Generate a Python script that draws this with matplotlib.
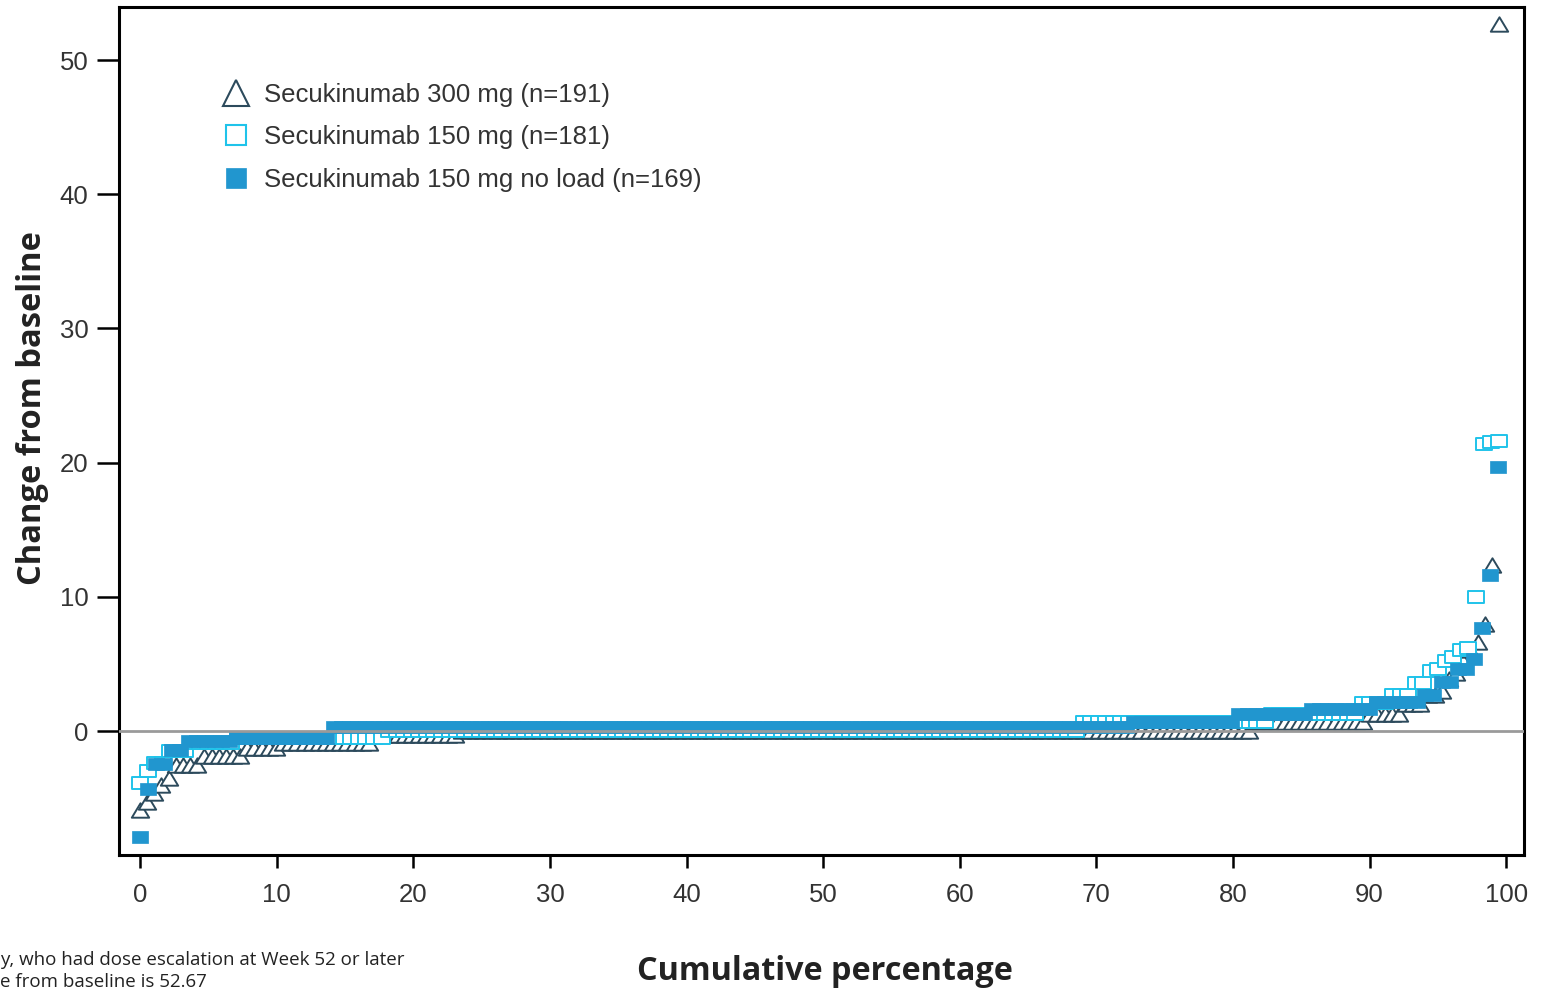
import numpy as np
import matplotlib.pyplot as plt
from matplotlib.path import Path
from matplotlib.lines import Line2D

# change from baseline, sorted, stored as (value, number of patients) runs
tri_vals = [-5.9, -5.3, -4.6, -4.0, -3.5, -2.5, -1.9, -1.3, -0.9, -0.3, 0.0, 0.7,
            1.3, 2.0, 2.7, 3.0, 3.9, 4.3, 5.2, 6.0, 6.6, 8.0, 12.4, 52.67]
tri_counts = [1, 1, 1, 1, 1, 4, 6, 5, 13, 12, 111, 16,
              5, 3, 2, 1, 1, 1, 1, 1, 1, 1, 1, 1]

sq_vals = [-3.9, -3.0, -2.4, -1.5, -0.9, -0.5, 0.0, 0.7, 1.3, 2.1, 2.7,
           3.6, 4.5, 4.6, 5.2, 5.5, 6.0, 6.2, 10.0, 21.4, 21.5, 21.6]
sq_counts = [1, 1, 2, 3, 6, 20, 92, 25, 12, 4, 3,
             2, 1, 1, 1, 1, 1, 1, 1, 1, 1, 1]

nl_vals = [-7.9, -4.3, -2.45, -1.4, -0.75, -0.5, 0.33, 0.67, 1.27, 1.64, 2.16,
           2.65, 3.65, 4.6, 5.4, 7.7, 11.6, 19.7]
nl_counts = [1, 1, 2, 2, 6, 12, 99, 13, 9, 8, 6,
             2, 2, 2, 1, 1, 1, 1]

labels = ['Secukinumab 300 mg (n=191)', 'Secukinumab 150 mg (n=181)',
          'Secukinumab 150 mg no load (n=169)']
xticks = [0, 10, 20, 30, 40, 50, 60, 70, 80, 90, 100]
yticks = [0, 10, 20, 30, 40, 50]

c_tri = '#2c4a5c'
c_sq = '#1fc3ea'
c_nl = '#2196cf'


def cum(vals, counts):
    y = np.repeat(vals, counts)
    x = np.arange(len(y)) / len(y) * 100
    return x, y


# scanned chart is stretched sideways, so markers are wider than tall
sq_mark = Path([(-1, -0.73), (1, -0.73), (1, 0.73), (-1, 0.73), (-1, -0.73)], closed=True)
tri_mark = Path([(0, 0.83), (-1, -0.83), (1, -0.83), (0, 0.83)], closed=True)

fig = plt.figure(figsize=(15.52, 9.9), dpi=100)
ax = fig.add_axes([119 / 1552, 1 - 855 / 990, 1405 / 1552, 848 / 990])

x, y = cum(tri_vals, tri_counts)
ax.plot(x, y, ls='none', marker=tri_mark, ms=12.5, mfc='white', mec=c_tri, mew=1.4, zorder=2)
x, y = cum(sq_vals, sq_counts)
ax.plot(x, y, ls='none', marker=sq_mark, ms=12, mfc='white', mec=c_sq, mew=1.4, zorder=3)
x, y = cum(nl_vals, nl_counts)
ax.plot(x, y, ls='none', marker=sq_mark, ms=11, mfc=c_nl, mec=c_nl, mew=0.5, zorder=4)

ax.axhline(0, color='#9a9a9a', lw=2, zorder=5)

ax.set_xlim(-1.54, 101.3)
ax.set_ylim(-9.24, 53.95)
ax.set_xticks(xticks)
ax.set_yticks(yticks)
for s in ax.spines.values():
    s.set_linewidth(2.2)
ax.tick_params(axis='y', length=16, width=1.8, pad=6, labelsize=18.5, labelcolor='#333333')
ax.tick_params(axis='x', length=9, width=1.8, pad=11, labelsize=18.5, labelcolor='#333333')
for t in ax.get_xticklabels() + ax.get_yticklabels():
    t.set_fontfamily('Liberation Sans')

handles = [
    Line2D([], [], ls='none', marker='^', ms=19, mfc='white', mec=c_tri, mew=1.5),
    Line2D([], [], ls='none', marker='s', ms=15, mfc='white', mec=c_sq, mew=1.5),
    Line2D([], [], ls='none', marker='s', ms=15, mfc=c_nl, mec=c_nl, mew=0.5),
]
ax.legend(handles, labels, loc='upper left', bbox_to_anchor=(0.063, 0.926), frameon=False,
          prop={'family': 'Liberation Sans', 'size': 18.5}, labelcolor='#333333',
          handletextpad=0.5, labelspacing=0.735, handlelength=1.2, borderpad=0)

fig.text(33 / 1552, 1 - 408 / 990, 'Change from baseline', rotation=90, ha='center', va='center',
         family='Open Sans', weight='bold', size=23.5, color='#222222')
fig.text(825 / 1552, 1 - 972 / 990, 'Cumulative percentage', ha='center', va='center',
         family='Open Sans', weight='bold', size=23.3, color='#222222')
fig.text(0, 1 - 960 / 990, 'y, who had dose escalation at Week 52 or later', ha='left', va='center',
         family='Open Sans', size=13.5, color='#222222')
fig.text(0, 1 - 982 / 990, 'e from baseline is 52.67', ha='left', va='center',
         family='Open Sans', size=13.5, color='#222222')

fig.savefig('out.png', dpi=100)
